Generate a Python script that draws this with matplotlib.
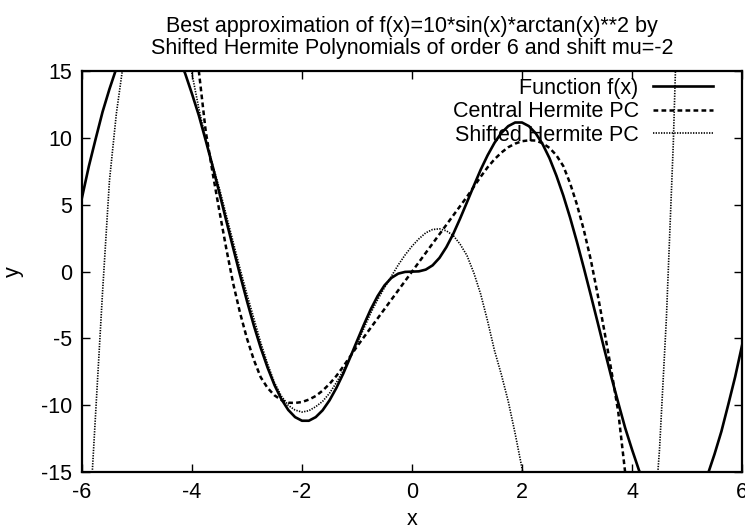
import numpy as np
import matplotlib
matplotlib.use("Agg")
import matplotlib.pyplot as plt

plt.rcParams["font.family"] = ["Liberation Sans", "DejaVu Sans"]
plt.rcParams["axes.unicode_minus"] = False

# ── data (x step 0.125) ──────────────────────────────────────────────────
func_x = np.arange(-6, 6.001, 0.125)
func_y = [5.52, 7.87, 9.94, 11.95, 13.65, 15.19, 16.42, 17.41, 18.09,
          18.49, 18.57, 18.37, 17.87, 17.09, 16.06, 14.83, 13.30,
          11.68, 9.81, 7.89, 5.86, 3.79, 1.75, -0.26, -2.20,
          -4.03, -5.70, -7.18, -8.48, -9.53, -10.34, -10.88, -11.15,
          -11.15, -10.88, -10.37, -9.63, -8.70, -7.63, -6.43, -5.19,
          -3.97, -2.82, -1.83, -1.03, -0.47, -0.15, -0.02, 0.0,
          0.02, 0.15, 0.47, 1.03, 1.83, 2.82, 3.97, 5.19,
          6.43, 7.63, 8.70, 9.63, 10.37, 10.88, 11.15, 11.15,
          10.88, 10.34, 9.53, 8.48, 7.18, 5.70, 4.03, 2.20,
          0.26, -1.75, -3.79, -5.86, -7.89, -9.81, -11.68, -13.30,
          -14.83, -16.06, -17.09, -17.87, -18.37, -18.57, -18.49, -18.09,
          -17.41, -16.42, -15.19, -13.65, -11.95, -9.94, -7.87, -5.52]

central_x = np.arange(-4, 4.001, 0.125)
central_y = [20.5, 15.0, 10.5, 7.4, 4.5, 1.7, -0.9, -3.1, -5.0,
             -6.6, -7.9, -8.7, -9.25, -9.6, -9.8, -9.82, -9.75,
             -9.57, -9.3, -8.9, -8.4, -7.8, -7.1, -6.35, -5.6,
             -4.9, -4.2, -3.5, -2.8, -2.1, -1.4, -0.7, 0.0,
             0.7, 1.4, 2.1, 2.8, 3.5, 4.2, 4.9, 5.6,
             6.35, 7.1, 7.8, 8.4, 8.9, 9.3, 9.57, 9.75,
             9.82, 9.8, 9.6, 9.25, 8.7, 7.9, 6.6, 5.0,
             3.1, 0.9, -1.7, -4.5, -7.4, -10.5, -15.0, -20.5]

shifted_x = np.arange(-6, 5.001, 0.125)
shifted_y = [-30, -19.5, -10.5, -1.5, 6.8, 11.8, 15.5, 18.3, 20.5,
             22.2, 23.5, 24.0, 24.0, 22.8, 21.0, 18.2, 14.8,
             12.2, 9.9, 8.0, 6.2, 4.2, 2.2, 0.2, -1.7,
             -3.5, -5.3, -6.9, -8.3, -9.3, -10.0, -10.35, -10.5,
             -10.4, -10.1, -9.7, -9.1, -8.3, -7.4, -6.4, -5.4,
             -4.25, -3.1, -2.1, -1.2, -0.35, 0.5, 1.25, 1.9,
             2.45, 2.9, 3.15, 3.2, 3.05, 2.7, 2.05, 1.2,
             -0.1, -1.7, -3.7, -5.9, -7.7, -9.7, -12.1, -14.7,
             -17.3, -20.0, -23, -26, -29, -32, -34.5, -37,
             -38.7, -40, -40.7, -41, -40.3, -39, -36.8, -34,
             -30.3, -26, -20.3, -13.3, -3.5, 9.5, 27, 50]

xticks = [-6, -4, -2, 0, 2, 4, 6]
yticks = [-15, -10, -5, 0, 5, 10, 15]

# ── plot ─────────────────────────────────────────────────────────────────
FS = 15.5
fig = plt.figure(figsize=(7.45, 5.30), dpi=100)
ax = fig.add_axes([0.110, 0.109, 0.886, 0.757])

ax.plot(func_x, func_y, color="black", lw=1.9, label="Function f(x)")
ax.plot(central_x, central_y, color="black", lw=1.8, linestyle=(0, (1.9, 1.3)),
        label="Central Hermite PC")
ax.plot(shifted_x, shifted_y, color="black", lw=1.2, linestyle=(0, (0.8, 0.8)),
        label="Shifted Hermite PC")

ax.set_xlim(-6, 6)
ax.set_ylim(-15, 15)
ax.set_xticks(xticks)
ax.set_yticks(yticks)
ax.tick_params(direction="in", length=6, width=1, top=True, right=True,
               labelsize=FS, pad=7)
for s in ax.spines.values():
    s.set_linewidth(1.6)

ax.set_xlabel("x", fontsize=FS, labelpad=4)
ax.set_ylabel("y", fontsize=FS, labelpad=12)
ax.set_title("Best approximation of f(x)=10*sin(x)*arctan(x)**2 by\n"
             "Shifted Hermite Polynomials of order 6 and shift mu=-2",
             fontsize=FS, pad=12, linespacing=1.1)

ax.legend(loc="upper right", bbox_to_anchor=(0.956, 0.983), markerfirst=False,
          frameon=False, fontsize=FS, handlelength=2.8, handletextpad=0.65,
          labelspacing=0.12, borderpad=0, borderaxespad=0)

plt.savefig("out.png", dpi=100)
plt.close()
